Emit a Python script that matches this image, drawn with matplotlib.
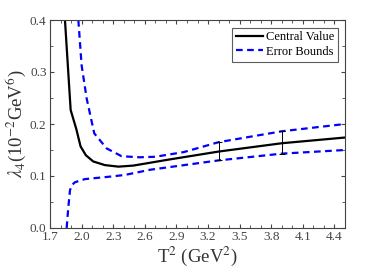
import matplotlib
matplotlib.use("Agg")
import matplotlib.pyplot as plt
import numpy as np

# central value curve
x_c = [1.842, 1.896, 1.95, 1.99, 2.04, 2.11, 2.22, 2.35, 2.49, 2.81, 3.30, 3.90, 4.5]
y_c = [0.400, 0.227, 0.190, 0.157, 0.140, 0.128, 0.121, 0.118, 0.120, 0.131, 0.147, 0.163, 0.174]

# upper error bound
x_up = [1.969, 2.0, 2.048, 2.12, 2.238, 2.38, 2.55, 2.70, 2.97, 3.30, 3.90, 4.5]
y_up = [0.400, 0.313, 0.249, 0.182, 0.153, 0.138, 0.136, 0.137, 0.146, 0.165, 0.186, 0.200]

# lower error bound
x_lo = [1.858, 1.874, 1.89, 1.91, 1.937, 2.03, 2.28, 2.41, 2.65, 3.30, 3.90, 4.5]
y_lo = [0.0, 0.040, 0.073, 0.083, 0.088, 0.094, 0.099, 0.102, 0.112, 0.130, 0.143, 0.150]

# error bars
x_err = [3.3, 3.9]
y_err_lo = [0.130, 0.143]
y_err_hi = [0.165, 0.186]

plt.rcParams['font.family'] = ['Liberation Serif', 'DejaVu Serif']
plt.rcParams['mathtext.fontset'] = 'stix'

fig = plt.figure(figsize=(3.82, 2.73), dpi=100)
ax = fig.add_axes([50/382, 1 - 228/273, 295/382, 208/273])

ax.plot(x_c, y_c, color='black', lw=1.6, label='Central Value')
ax.plot(x_up, y_up, color='blue', lw=1.6, ls=(0, (3, 2)), label='Error Bounds')
ax.plot(x_lo, y_lo, color='blue', lw=1.6, ls=(0, (3, 2)))

yc = [(a + b) / 2 for a, b in zip(y_err_lo, y_err_hi)]
ye = [(b - a) / 2 for a, b in zip(y_err_lo, y_err_hi)]
ax.errorbar(x_err, yc, yerr=ye, fmt='none', ecolor='black', elinewidth=0.7, capsize=2, capthick=0.7)

ax.set_xlim(1.7, 4.5)
ax.set_ylim(0, 0.4)
ax.set_xticks(np.arange(1.7, 4.45, 0.3))
ax.set_xticks(np.arange(1.7, 4.51, 0.1), minor=True)
ax.set_yticks(np.arange(0, 0.41, 0.1))
ax.set_yticks(np.arange(0, 0.41, 0.05), minor=True)
ax.xaxis.set_major_formatter(matplotlib.ticker.FormatStrFormatter('%.1f'))
ax.yaxis.set_major_formatter(matplotlib.ticker.FormatStrFormatter('%.1f'))
ax.tick_params(which='both', direction='in', top=True, right=True, labelsize=9.5, colors='#444444', labelcolor='#444444')
ax.tick_params(which='major', length=3, pad=2.5)
ax.tick_params(which='minor', length=2)
for s in ax.spines.values():
    s.set_color('#444444')
    s.set_linewidth(0.8)

ax.set_xlabel(r'T$^2$ (GeV$^2$)', fontsize=13.5, color='#333333', labelpad=1)
ax.set_ylabel(r'$\lambda_4$(10$^{-2}$GeV$^6$)', fontsize=13.5, color='#333333', labelpad=1)

leg = ax.legend(loc='upper right', fontsize=9, frameon=True, fancybox=False, edgecolor='#333333',
                handlelength=2.2, handletextpad=0.2, borderpad=0.3, labelspacing=0.2, borderaxespad=0.6)
leg.get_frame().set_linewidth(0.8)

fig.savefig('out.png', dpi=100)
